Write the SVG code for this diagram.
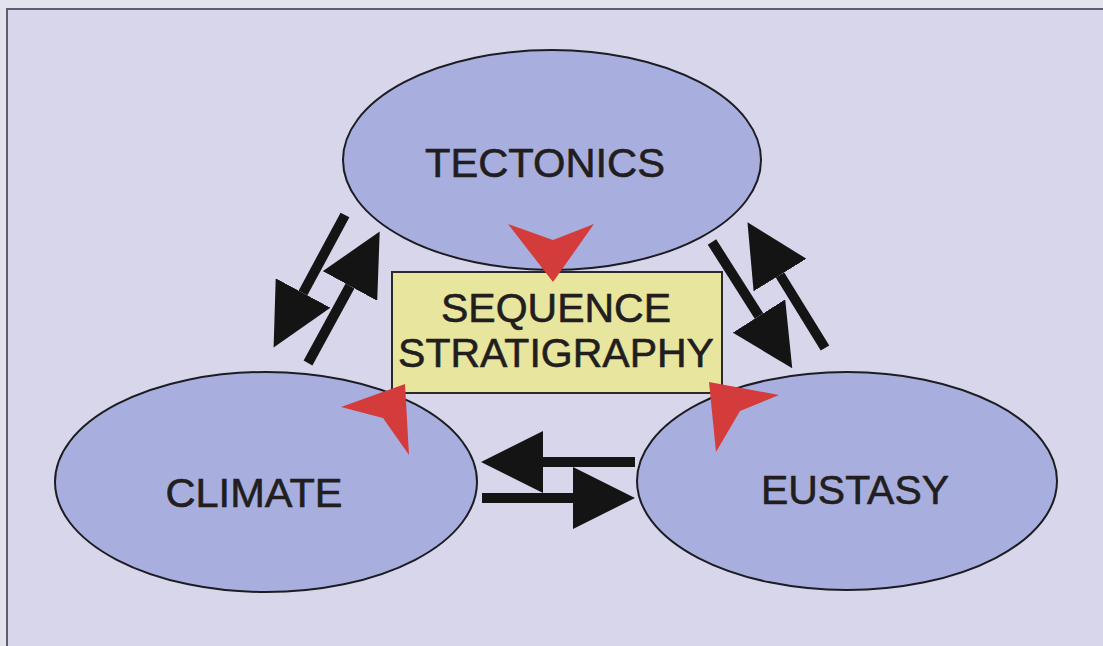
<svg xmlns="http://www.w3.org/2000/svg" width="1103" height="646" viewBox="0 0 1103 646">
<defs>
<style>
.node{fill:#a8afde;stroke:#1c1c22;stroke-width:2}
.box{fill:#e8e69e;stroke:#2a2a2a;stroke-width:2}
.lbl{font-family:"Liberation Sans",Arial,sans-serif;font-size:41px;fill:#221e20;stroke:#221e20;stroke-width:0.6;text-anchor:middle}
.shaft{stroke:#141414;stroke-width:10;fill:none}
.red{fill:#d43c3c}
</style>
<marker id="head" markerUnits="userSpaceOnUse" viewBox="0 0 62 62" refX="0" refY="31" markerWidth="62" markerHeight="62" orient="auto">
<path d="M0,0 L62,31 L0,62 Z" fill="#141414"/>
</marker>
</defs>
<rect x="0" y="0" width="1103" height="646" fill="#e3e3ef"/>
<rect x="7" y="9" width="1100" height="640" fill="#d7d6eb" stroke="#5e5e6e" stroke-width="2"/>
<g id="tectonics">
<ellipse class="node" cx="552" cy="160" rx="209" ry="110"/>
<text class="lbl" x="545" y="177" textLength="240" lengthAdjust="spacingAndGlyphs">TECTONICS</text>
</g>
<g id="climate">
<ellipse class="node" cx="266" cy="482" rx="211" ry="110"/>
<text class="lbl" x="254" y="507" textLength="177" lengthAdjust="spacingAndGlyphs">CLIMATE</text>
</g>
<g id="eustasy">
<ellipse class="node" cx="847" cy="481" rx="210" ry="109"/>
<text class="lbl" x="855" y="504" textLength="188" lengthAdjust="spacingAndGlyphs">EUSTASY</text>
</g>
<g id="connectors">
<line class="shaft" x1="345" y1="215" x2="303" y2="293" marker-end="url(#head)"/>
<line class="shaft" x1="308" y1="363" x2="350" y2="286" marker-end="url(#head)"/>
<line class="shaft" x1="712" y1="242" x2="759" y2="316" marker-end="url(#head)"/>
<line class="shaft" x1="825" y1="348" x2="780" y2="275" marker-end="url(#head)"/>
<line class="shaft" x1="635" y1="462" x2="543" y2="462" marker-end="url(#head)"/>
<line class="shaft" x1="482" y1="498" x2="573" y2="498" marker-end="url(#head)"/>
</g>
<g id="sequence-stratigraphy">
<rect class="box" x="392" y="272" width="330" height="121"/>
<text class="lbl" x="556" y="322">SEQUENCE</text>
<text class="lbl" x="556" y="367">STRATIGRAPHY</text>
</g>
<g id="red-arrows">
<polygon class="red" points="508,224 553,240 594,224 553,282"/>
<polygon class="red" points="405,384 341,407 383,418 409,455"/>
<polygon class="red" points="709,382 779,395 740,411 716,452"/>
</g>
</svg>
